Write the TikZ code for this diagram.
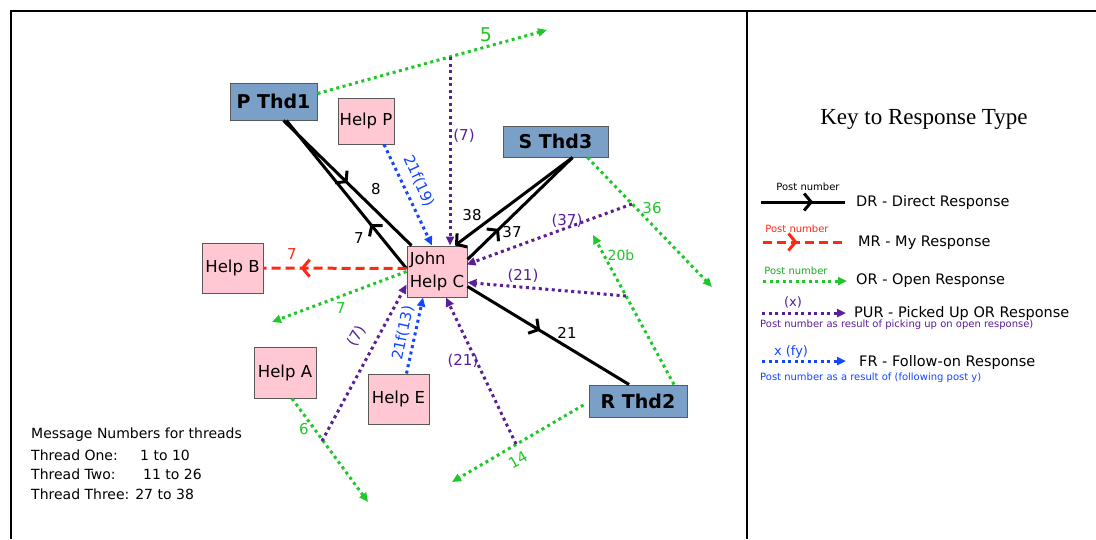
\documentclass[tikz,border=0pt]{standalone}
\usepackage{fontspec}
\setmainfont{DejaVu Sans}
\newfontfamily\seriffont{Liberation Serif}
\usetikzlibrary{arrows.meta,calc,decorations.markings}
\definecolor{ogreen}{RGB}{30,200,40}
\definecolor{opurple}{RGB}{90,30,150}
\definecolor{oblue}{RGB}{20,70,255}
\definecolor{ored}{RGB}{255,40,20}
\definecolor{boxblue}{RGB}{122,160,200}
\definecolor{pinkbox}{RGB}{255,200,210}
\begin{document}
\begin{tikzpicture}[x=1pt,y=-1pt,
  thd/.style={draw=black!65, line width=1pt, fill=boxblue, inner sep=0pt, font=\fontsize{19}{23}\selectfont\bfseries},
  helpbox/.style={draw=black!65, line width=1pt, fill=pinkbox, inner sep=0pt, font=\fontsize{16.5}{23}\selectfont},
  blk/.style={draw=black, line width=3pt},
  dots/.style={line width=3pt, dash pattern=on 3pt off 3.5pt},
  ordot/.style={draw=ogreen, dots, -{Triangle[length=9pt,width=8pt]}},
  purdot/.style={draw=opurple, dots, -{Triangle[length=9pt,width=8pt]}},
  frdot/.style={draw=oblue, dots, -{Triangle[length=9pt,width=8pt]}},
  mrdash/.style={draw=ored, line width=3pt, dash pattern=on 9pt off 5pt},
  midarrow/.style={postaction={decorate,decoration={markings,mark=at position #1 with {\arrow{Straight Barb[length=7pt,width=17pt]}}}}},
  num/.style={inner sep=0pt, font=\fontsize{15}{18}\selectfont},
  legend/.style={inner sep=0pt, font=\fontsize{14}{17}\selectfont},
  keytxt/.style={inner sep=0pt, anchor=west, font=\fontsize{14.5}{17}\selectfont},
  smalltxt/.style={inner sep=0pt, font=\fontsize{10}{12}\selectfont},
]
\useasboundingbox (0,0) rectangle (1096,539);
\fill[white] (0,0) rectangle (1096,539);
% frame
\draw[line width=2pt] (11,539) -- (11,11) -- (1096,11);
\draw[line width=2pt] (747,11) -- (747,539);

% nodes
\node[thd, minimum width=87pt, minimum height=37pt] (pthd) at (273.5,101.5) {P Thd1};
\node[helpbox, minimum width=56pt, minimum height=46pt] (helpp) at (366,121) {Help P};
\node[thd, minimum width=105pt, minimum height=31pt] (sthd) at (555.5,141.5) {S Thd3};
\node[helpbox, minimum width=60pt, minimum height=51pt, align=left] (john) at (437,271.5) {John\\Help C};
\node[helpbox, minimum width=61pt, minimum height=50pt] (helpb) at (232.5,268) {Help B};
\node[helpbox, minimum width=62pt, minimum height=51pt] (helpa) at (285,372.5) {Help A};
\node[helpbox, minimum width=61pt, minimum height=50pt] (helpe) at (398.5,399) {Help E};
\node[thd, minimum width=98pt, minimum height=32pt] (rthd) at (638,401) {R Thd2};

% 5
\coordinate (g5end) at (547,30);
\draw[ordot] ($(pthd.east)+(0,-8)$) -- (g5end);
\node[inner sep=0pt, font=\fontsize{19}{22}\selectfont, text=ogreen] (l5) at (486,35) {5};
% (7) top
\coordinate (p7top) at (450,57);
\draw[purdot] (p7top) -- ($(john.north)+(13,0)$);
\node[num, text=opurple] (l7p) at (464,136) {(7)};
% black 8
\draw[blk, midarrow=0.5] ($(pthd.south)+(10,0)$) -- ($(john.north west)+(5,0)$);
\node[num] (l8) at (376,189) {8};
% black 7
\draw[blk, midarrow=0.3] ($(john.west)+(0,-3)$) -- ($(pthd.south)+(13,0)$);
\node[num] (l7b) at (359,238) {7};
% 38
\draw[blk, -{Straight Barb[length=7pt,width=17pt]}] ($(sthd.south)+(17,0)$) -- ($(john.north)+(18,0)$);
\node[num] (l38) at (472,215) {38};
% 37
\draw[blk, midarrow=0.3] ($(john.east)+(0,-12)$) -- ($(sthd.south)+(17,0)$);
\node[num] (l37) at (512,232) {37};
% 21 black
\draw[blk, midarrow=0.45] ($(john.east)+(0,15)$) -- ($(rthd.north)+(-9,0)$);
\node[num] (l21) at (567,333) {21};
% red 7
\draw[mrdash, midarrow=0.74] ($(john.west)+(0,-3)$) -- (helpb.east);
\node[num, text=ored] (l7r) at (292,254) {7};
% green 7
\coordinate (g7end) at (272,322);
\draw[ordot] (john.west) -- (g7end);
\node[num, text=ogreen] (l7g) at (341,308) {7};
% blue 21f(19)
\draw[frdot] ($(helpp.south)+(18,0)$) -- ($(john.north)+(-5,0)$);
\node[num, text=oblue, rotate=-65] (lf19) at (419,181) {21f(19)};
% 36
\coordinate (g36end) at (712,287);
\draw[ordot] ($(sthd.south)+(32,0)$) -- (g36end);
\node[num, text=ogreen] (l36) at (652,208) {36};
% (37)
\coordinate (p37) at (632,204);
\draw[purdot] (p37) -- ($(john.east)+(-1,-7)$);
\node[num, text=opurple] (l37p) at (567,221) {(37)};
% 20b
\coordinate (g20end) at (593,235);
\draw[ordot] ($(rthd.north)+(36,0)$) -- (g20end);
\node[inner sep=0pt, font=\fontsize{14}{16}\selectfont, text=ogreen] (l20b) at (621,255) {20b};
% (21) right
\coordinate (p21a) at (626,296);
\draw[purdot] (p21a) -- ($(john.east)+(0,11)$);
\node[num, text=opurple] (l21a) at (523,276) {(21)};
% 14
\coordinate (g14end) at (452,482);
\draw[ordot] ($(rthd.west)+(-5,4)$) -- (g14end);
\node[num, text=ogreen, rotate=30] (l14) at (518,460) {14};
% (21) bottom
\coordinate (p21b) at (516,444);
\draw[purdot] (p21b) -- ($(john.south)+(9,0)$);
\node[num, text=opurple] (l21b) at (463,361) {(21)};
% blue 21f(13)
\draw[frdot] ($(helpe.north)+(8,0)$) -- ($(john.south)+(-14,0)$);
\node[num, text=oblue, rotate=78] (lf13) at (403,333) {21f(13)};
% 6
\coordinate (g6end) at (368,502);
\draw[ordot] ($(helpa.south)+(7,0)$) -- (g6end);
\node[num, text=ogreen] (l6) at (304,429) {6};
% (7) bottom
\coordinate (p7b) at (322,441);
\draw[purdot] (p7b) -- ($(john.west)+(0,13)$);
\node[num, text=opurple, rotate=61] (l7pb) at (357,336) {(7)};

% legend left
\node[legend, anchor=west] (m0) at (31,435) {Message Numbers for threads};
\node[legend, anchor=west] (m1) at (31,455) {Thread One:};
\node[legend, anchor=west] (m1b) at (140,455) {1 to 10};
\node[legend, anchor=west] (m2) at (31,474) {Thread Two:};
\node[legend, anchor=west] (m2b) at (143,474) {11 to 26};
\node[legend, anchor=west] (m3) at (31,494) {Thread Three: 27 to 38};

% key
\node[inner sep=0pt, font=\seriffont\fontsize{23}{27}\selectfont] (keytitle) at (924,119) {Key to Response Type};
% DR
\coordinate (kdra) at (761,202); \coordinate (kdrb) at (845,202);
\draw[blk, midarrow=0.62] (kdra) -- (kdrb);
\node[smalltxt] (kdrl) at (808,187) {Post number};
\node[keytxt] (kdrt) at (856,202) {DR - Direct Response};
% MR
\coordinate (kmra) at (763,242); \coordinate (kmrb) at (845,242);
\draw[mrdash, midarrow=0.42] (kmra) -- (kmrb);
\node[smalltxt, text=ored] (kmrl) at (797,229) {Post number};
\node[keytxt] (kmrt) at (858,243) {MR - My Response};
% OR
\coordinate (kora) at (763,281); \coordinate (korb) at (847,281);
\draw[ordot] (kora) -- (korb);
\node[smalltxt, text=ogreen!85!black] (korl) at (796,271) {Post number};
\node[keytxt] (kort) at (856,281) {OR - Open Response};
% PUR
\coordinate (kpua) at (762,313); \coordinate (kpub) at (846,313);
\draw[purdot] (kpua) -- (kpub);
\node[inner sep=0pt, font=\fontsize{13}{15}\selectfont, text=opurple] (kpul) at (793,302) {(x)};
\node[keytxt] (kput) at (854,313) {PUR - Picked Up OR Response};
\node[smalltxt, anchor=west, text=opurple] (kpus) at (760,325) {Post number as result of picking up on open response)};
% FR
\coordinate (kfra) at (762,361); \coordinate (kfrb) at (846,361);
\draw[frdot] (kfra) -- (kfrb);
\node[inner sep=0pt, font=\fontsize{13}{15}\selectfont, text=oblue] (kfrl) at (791,352) {x (fy)};
\node[keytxt] (kfrt) at (859,362) {FR - Follow-on Response};
\node[smalltxt, anchor=west, text=oblue] (kfrs) at (760,378) {Post number as a result of (following post y)};
\end{tikzpicture}
\end{document}
